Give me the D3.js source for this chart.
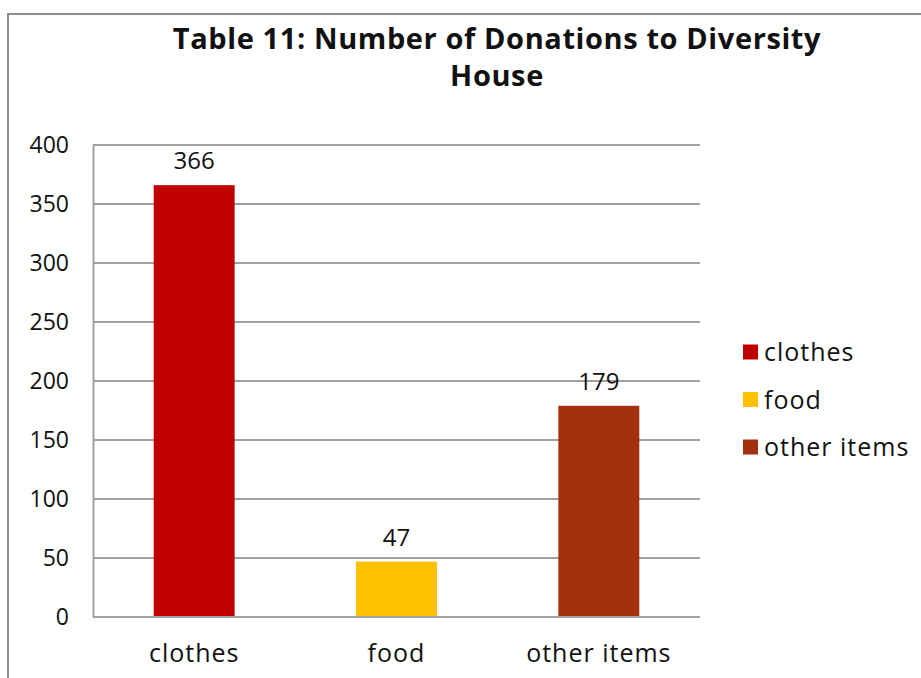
<!DOCTYPE html>
<html>
<head>
<meta charset="utf-8">
<script src="https://cdn.jsdelivr.net/npm/d3@7"></script>
<style>
  html, body { margin: 0; padding: 0; background: #fff; }
  svg { display: block; }
  text { font-family: "Century Gothic", "Open Sans", Lato, "DejaVu Sans", sans-serif; fill: #111; }
</style>
</head>
<body>
<svg id="chart" width="921" height="678"></svg>
<script>
// Donation counts by type
const categories = ["clothes", "food", "other items"];
const values = [366, 47, 179];
const colors = ["#C00000", "#FFC000", "#A5300F"];
const yTicks = [0, 50, 100, 150, 200, 250, 300, 350, 400];
const titleLines = ["Table 11: Number of Donations to Diversity", "House"];

const svg = d3.select("#chart");

// Chart frame (runs off the right and bottom edges)
svg.append("rect")
  .attr("x", 8).attr("y", 14)
  .attr("width", 940).attr("height", 700)
  .attr("fill", "none").attr("stroke", "#8c8c8c").attr("stroke-width", 2);

const plot = { left: 93, right: 700, top: 145, bottom: 617 };

const x = d3.scaleBand()
  .domain(categories)
  .range([plot.left, plot.right])
  .paddingInner(0.6)
  .paddingOuter(0.3);

const y = d3.scaleLinear()
  .domain([0, 400])
  .range([plot.bottom, plot.top]);

// Gridlines
svg.append("g").selectAll("line")
  .data(yTicks.filter(d => d > 0))
  .join("line")
  .attr("x1", plot.left).attr("x2", plot.right)
  .attr("y1", d => y(d)).attr("y2", d => y(d))
  .attr("stroke", "#a0a0a0").attr("stroke-width", 2);

// Y axis
const yAxis = svg.append("g")
  .attr("transform", `translate(${plot.left},0)`)
  .call(d3.axisLeft(y).tickValues(yTicks).tickSize(0).tickPadding(24));
yAxis.select(".domain").attr("stroke", "#a0a0a0").attr("stroke-width", 2);
yAxis.selectAll("text").attr("font-size", 23).attr("fill", "#111")
  .style("font-family", null);

// X axis
const xAxis = svg.append("g")
  .attr("transform", `translate(0,${plot.bottom})`)
  .call(d3.axisBottom(x).tickSize(0).tickPadding(27));
xAxis.select(".domain").attr("stroke", "#a0a0a0").attr("stroke-width", 2)
  .attr("d", `M${plot.left},0H${plot.right}`);
xAxis.selectAll("text").attr("font-size", 25).attr("letter-spacing", 1)
  .attr("fill", "#111").style("font-family", null);

// Bars
svg.append("g").selectAll("rect")
  .data(values)
  .join("rect")
  .attr("x", (d, i) => x(categories[i]))
  .attr("width", x.bandwidth())
  .attr("y", d => y(d))
  .attr("height", d => y(0) - y(d))
  .attr("fill", (d, i) => colors[i]);

// Redraw axis baseline above bars
svg.append("line")
  .attr("x1", plot.left).attr("x2", plot.right)
  .attr("y1", plot.bottom).attr("y2", plot.bottom)
  .attr("stroke", "#a0a0a0").attr("stroke-width", 2);

// Value labels
svg.append("g").selectAll("text")
  .data(values)
  .join("text")
  .attr("x", (d, i) => x(categories[i]) + x.bandwidth() / 2)
  .attr("y", d => y(d) - 16)
  .attr("text-anchor", "middle")
  .attr("font-size", 24)
  .text(d => d);

// Title
svg.append("text")
  .attr("x", 497).attr("y", 49)
  .attr("text-anchor", "middle")
  .attr("font-size", 29).attr("font-weight", "bold")
  .attr("letter-spacing", 0.6)
  .selectAll("tspan")
  .data(titleLines)
  .join("tspan")
  .attr("x", 497)
  .attr("dy", (d, i) => i === 0 ? 0 : 37)
  .text(d => d);

// Legend
const legend = svg.append("g").selectAll("g")
  .data(categories)
  .join("g")
  .attr("transform", (d, i) => `translate(743,${352 + i * 47.5})`);
legend.append("rect")
  .attr("x", 0).attr("y", -7.5)
  .attr("width", 15).attr("height", 15)
  .attr("fill", (d, i) => colors[i]);
legend.append("text")
  .attr("x", 21).attr("y", 9)
  .attr("font-size", 25).attr("letter-spacing", 1)
  .text(d => d);
</script>
</body>
</html>
